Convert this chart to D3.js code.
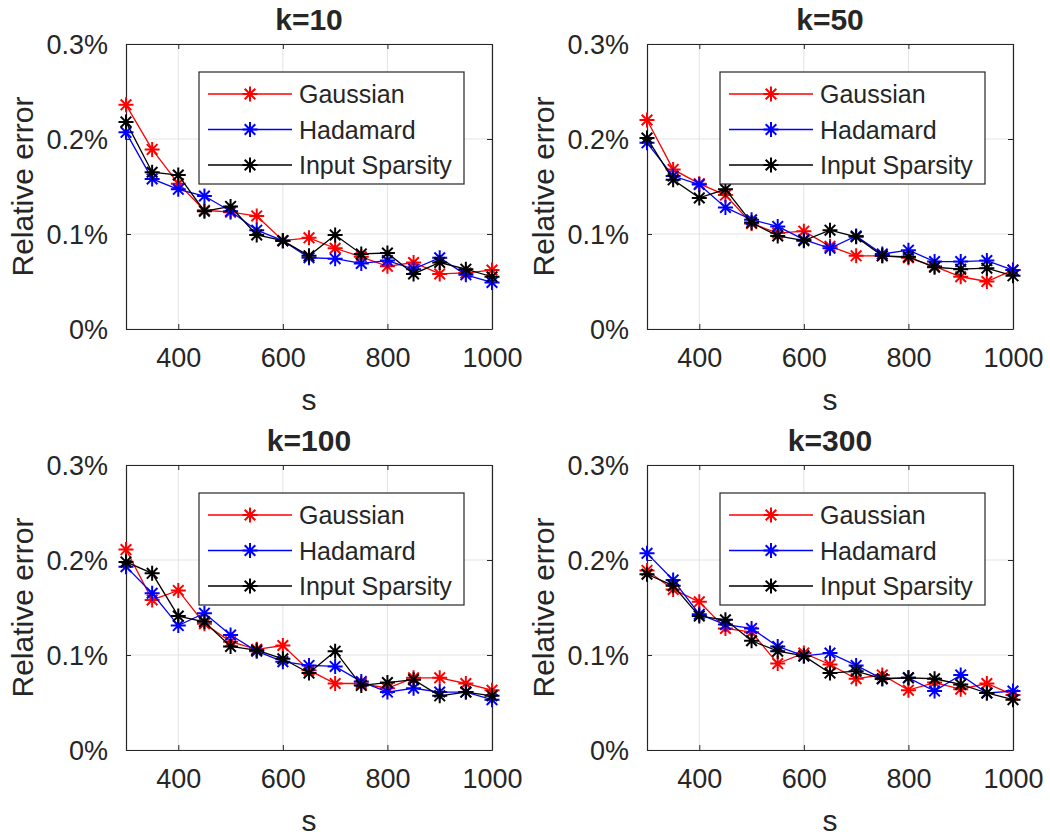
<!DOCTYPE html>
<html>
<head>
<meta charset="utf-8">
<script src="https://d3js.org/d3.v7.min.js"></script>
<style>
  body { margin: 0; background: #fff; }
  svg { display: block; }
  text { font-family: "Liberation Sans", Arial, Helvetica, sans-serif; fill: #262626; }
</style>
</head>
<body>
<div id="app"></div>
<script>
// sketch sizes s (x axis)
var sValues = [300, 350, 400, 450, 500, 550, 600, 650, 700, 750, 800, 850, 900, 950, 1000];

// relative error, in percent
var gaussianK10 = [0.236, 0.189, 0.153, 0.125, 0.123, 0.119, 0.093, 0.096, 0.085, 0.076, 0.066, 0.070, 0.058, 0.059, 0.062];
var hadamardK10 = [0.207, 0.158, 0.147, 0.140, 0.124, 0.104, 0.093, 0.075, 0.074, 0.069, 0.072, 0.063, 0.075, 0.057, 0.049];
var sparsityK10 = [0.218, 0.165, 0.162, 0.124, 0.129, 0.099, 0.093, 0.077, 0.099, 0.079, 0.080, 0.058, 0.070, 0.063, 0.055];

var gaussianK50 = [0.220, 0.168, 0.153, 0.141, 0.111, 0.101, 0.103, 0.087, 0.077, 0.077, 0.075, 0.066, 0.055, 0.050, 0.062];
var hadamardK50 = [0.196, 0.161, 0.152, 0.128, 0.115, 0.108, 0.094, 0.085, 0.098, 0.079, 0.083, 0.071, 0.071, 0.072, 0.062];
var sparsityK50 = [0.201, 0.157, 0.138, 0.147, 0.112, 0.098, 0.093, 0.104, 0.097, 0.077, 0.076, 0.065, 0.063, 0.064, 0.056];

var gaussianK100 = [0.211, 0.158, 0.168, 0.133, 0.114, 0.106, 0.110, 0.084, 0.070, 0.070, 0.065, 0.076, 0.076, 0.070, 0.063];
var hadamardK100 = [0.193, 0.165, 0.131, 0.144, 0.121, 0.104, 0.093, 0.089, 0.088, 0.072, 0.061, 0.065, 0.061, 0.061, 0.053];
var sparsityK100 = [0.198, 0.186, 0.141, 0.135, 0.109, 0.105, 0.096, 0.081, 0.104, 0.068, 0.071, 0.074, 0.057, 0.061, 0.057];

var gaussianK300 = [0.189, 0.169, 0.156, 0.128, 0.124, 0.091, 0.102, 0.090, 0.075, 0.079, 0.063, 0.071, 0.064, 0.070, 0.058];
var hadamardK300 = [0.207, 0.179, 0.143, 0.132, 0.128, 0.109, 0.099, 0.102, 0.089, 0.075, 0.076, 0.062, 0.079, 0.060, 0.062];
var sparsityK300 = [0.185, 0.173, 0.141, 0.137, 0.115, 0.104, 0.099, 0.081, 0.083, 0.075, 0.076, 0.075, 0.069, 0.060, 0.053];

var seriesNames = ["Gaussian", "Hadamard", "Input Sparsity"];
var seriesColors = ["#ff0000", "#0000ff", "#000000"];
var xTicks = [400, 600, 800, 1000];
var yTicks = [0, 0.1, 0.2, 0.3];
var panelTitles = ["k=10", "k=50", "k=100", "k=300"];
var panelData = [
  [gaussianK10, hadamardK10, sparsityK10],
  [gaussianK50, hadamardK50, sparsityK50],
  [gaussianK100, hadamardK100, sparsityK100],
  [gaussianK300, hadamardK300, sparsityK300]
];

var W = 1050, H = 840;
var plotW = 366, plotH = 285;
var origins = [[126, 44], [647, 44], [126, 465], [647, 465]];
var markR = 7.5;

var svg = d3.select("#app").append("svg").attr("width", W).attr("height", H);

// MATLAB style '*' marker: a plus and a cross together
function starPath(r) {
  var d = r * Math.SQRT1_2;
  return "M" + (-r) + ",0L" + r + ",0M0," + (-r) + "L0," + r +
    "M" + (-d) + "," + (-d) + "L" + d + "," + d +
    "M" + (-d) + "," + d + "L" + d + "," + (-d);
}

panelData.forEach(function (series, p) {
  var ox = origins[p][0], oy = origins[p][1];
  var g = svg.append("g").attr("transform", "translate(" + ox + "," + oy + ")");

  var x = d3.scaleLinear().domain([300, 1000]).range([0, plotW]);
  var y = d3.scaleLinear().domain([0, 0.3]).range([plotH, 0]);

  // grid
  g.append("g").selectAll("line").data(xTicks).enter().append("line")
    .attr("x1", function (d) { return x(d); }).attr("x2", function (d) { return x(d); })
    .attr("y1", 0).attr("y2", plotH)
    .attr("stroke", "#e3e3e3").attr("stroke-width", 1);
  g.append("g").selectAll("line").data(yTicks).enter().append("line")
    .attr("y1", function (d) { return y(d); }).attr("y2", function (d) { return y(d); })
    .attr("x1", 0).attr("x2", plotW)
    .attr("stroke", "#e3e3e3").attr("stroke-width", 1);

  // axes (ticks inward, mirrored on all sides)
  var fmt = function (d) { return d3.format("~g")(d) + "%"; };
  var axB = g.append("g").attr("transform", "translate(0," + plotH + ")")
    .call(d3.axisBottom(x).tickValues(xTicks).tickSizeInner(-5).tickSizeOuter(0).tickPadding(19)
      .tickFormat(d3.format("d")));
  var axT = g.append("g")
    .call(d3.axisTop(x).tickValues(xTicks).tickSizeInner(-5).tickSizeOuter(0).tickFormat(""));
  var axL = g.append("g")
    .call(d3.axisLeft(y).tickValues(yTicks).tickSizeInner(-5).tickSizeOuter(0).tickPadding(18).tickFormat(fmt));
  var axR = g.append("g").attr("transform", "translate(" + plotW + ",0)")
    .call(d3.axisRight(y).tickValues(yTicks).tickSizeInner(-5).tickSizeOuter(0).tickFormat(""));
  [axB, axT, axL, axR].forEach(function (a) {
    a.select(".domain").attr("stroke", "#262626").attr("stroke-width", 1.2);
    a.selectAll(".tick line").attr("stroke", "#262626").attr("stroke-width", 1);
    a.selectAll(".tick text").attr("font-size", 27).attr("fill", "#333")
      .style("font-family", "'Liberation Sans', Arial, sans-serif");
  });
  axL.selectAll(".tick text").attr("dy", "0.36em");

  // series lines + markers
  series.forEach(function (vals, si) {
    var pts = sValues.map(function (s, i) { return [s, vals[i]]; });
    var line = d3.line().x(function (d) { return x(d[0]); }).y(function (d) { return y(d[1]); });
    g.append("path").datum(pts).attr("d", line)
      .attr("fill", "none").attr("stroke", seriesColors[si]).attr("stroke-width", 1.3);
    g.append("g").selectAll("path").data(pts).enter().append("path")
      .attr("transform", function (d) { return "translate(" + x(d[0]) + "," + y(d[1]) + ")"; })
      .attr("d", starPath(markR))
      .attr("stroke", seriesColors[si]).attr("stroke-width", 2).attr("fill", "none");
  });

  // title and labels
  g.append("text").attr("x", plotW / 2).attr("y", -14).attr("text-anchor", "middle")
    .attr("font-size", 30).attr("font-weight", "bold").attr("fill", "#000").text(panelTitles[p]);
  g.append("text").attr("x", plotW / 2).attr("y", plotH + 81).attr("text-anchor", "middle")
    .attr("font-size", 30).attr("fill", "#333").text("s");
  g.append("text").attr("transform", "translate(" + (-93) + "," + (plotH / 2) + ") rotate(-90)")
    .attr("text-anchor", "middle").attr("font-size", 30).attr("fill", "#333").text("Relative error");

  // legend
  var lgW = 265, lgH = 112;
  var lg = g.append("g").attr("transform", "translate(" + (plotW - 28 - lgW) + ",28)");
  lg.append("rect").attr("width", lgW).attr("height", lgH)
    .attr("fill", "#fff").attr("stroke", "#262626").attr("stroke-width", 1.2);
  seriesNames.forEach(function (name, si) {
    var ry = 22 + si * 35.5;
    lg.append("line").attr("x1", 9).attr("x2", 93).attr("y1", ry).attr("y2", ry)
      .attr("stroke", seriesColors[si]).attr("stroke-width", 1.3);
    lg.append("path").attr("transform", "translate(51," + ry + ")").attr("d", starPath(markR))
      .attr("stroke", seriesColors[si]).attr("stroke-width", 2).attr("fill", "none");
    lg.append("text").attr("x", 100).attr("y", ry).attr("dy", "0.36em")
      .attr("font-size", 25).attr("fill", "#000").text(name);
  });
});
</script>
</body>
</html>
